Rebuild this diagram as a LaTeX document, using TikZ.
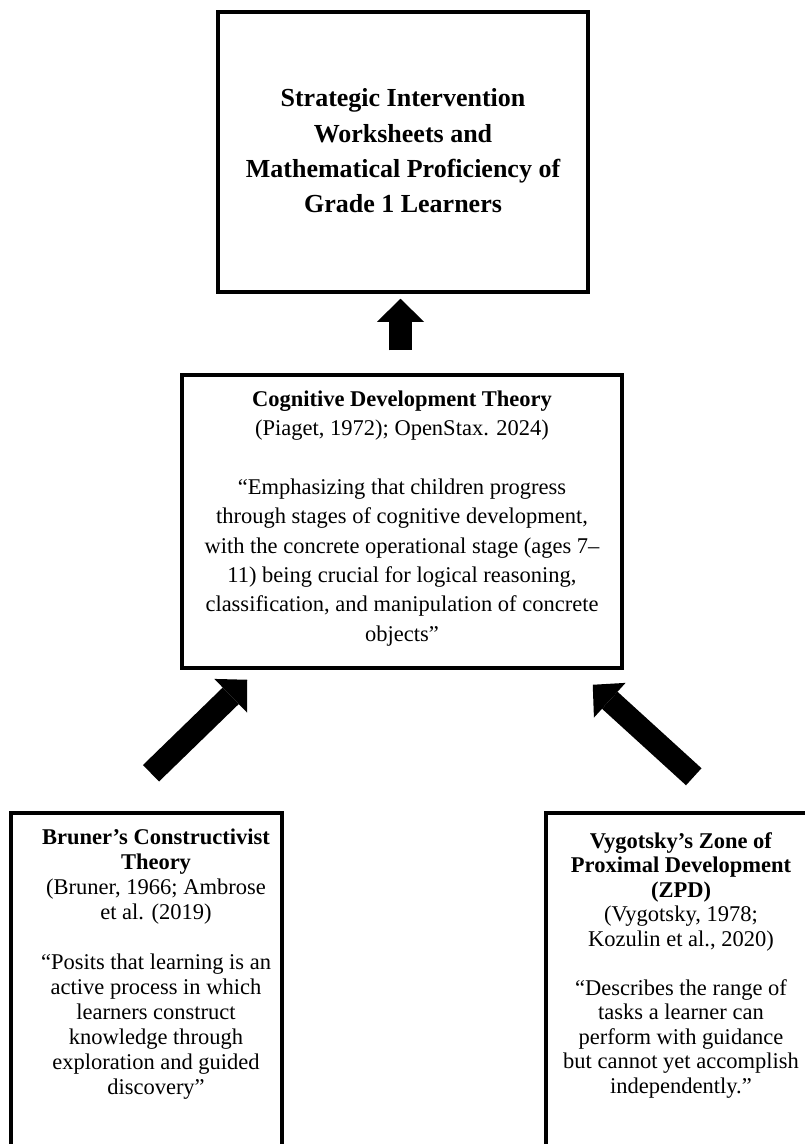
\documentclass[tikz,border=0pt]{standalone}
\usepackage{fontspec}
\setmainfont{Liberation Serif}
\usetikzlibrary{arrows.meta}
\begin{document}
\begin{tikzpicture}[x=1pt,y=-1pt,
  box/.style={draw=black, line width=3.5pt, rectangle, inner sep=0pt},
  txt/.style={align=center, inner sep=0pt, anchor=north},
  blockarrow/.style={line width=23pt, draw=black,
    -{Triangle[length=23pt,width=47pt,line width=0pt]}}]
\useasboundingbox (0,0) rectangle (805,1144);
\clip (0,0) rectangle (805,1144);
% boxes
\node[box, minimum width=370pt, minimum height=280pt] (top) at (403,152) {};
\node[box, minimum width=440pt, minimum height=293pt] (mid) at (402,521.5) {};
\node[box, minimum width=271pt, minimum height=387pt] (left) at (146.5,1006.5) {};
\node[box, minimum width=354pt, minimum height=387pt] (right) at (723,1006.5) {};
% texts
\node[txt, font={\fontsize{26}{35.3}\selectfont\bfseries}] (toptxt) at (403,87)
  {\rule{0pt}{19.5pt}Strategic Intervention\\ Worksheets and\\ Mathematical Proficiency of\\ Grade 1 Learners};
\node[txt, font={\fontsize{22.5}{29.3}\selectfont}] (midtxt) at (402,389.5)
  {\rule{0pt}{16.9pt}\textbf{Cognitive Development Theory}\\
   (Piaget, 1972); OpenStax. 2024)\\[29.3pt]
   “Emphasizing that children progress\\
   through stages of cognitive development,\\
   with the concrete operational stage (ages 7–\\
   11) being crucial for logical reasoning,\\
   classification, and manipulation of concrete\\
   objects”};
\node[txt, font={\fontsize{22.5}{25}\selectfont}] (lefttxt) at (156,827)
  {\rule{0pt}{16.9pt}\textbf{Bruner’s Constructivist}\\
   \textbf{Theory}\\
   (Bruner, 1966; Ambrose\\
   et al. (2019)\\[25pt]
   “Posits that learning is an\\
   active process in which\\
   learners construct\\
   knowledge through\\
   exploration and guided\\
   discovery”};
\node[txt, font={\fontsize{22.5}{24.5}\selectfont}] (righttxt) at (681,831)
  {\rule{0pt}{16.9pt}\textbf{Vygotsky’s Zone of}\\
   \textbf{Proximal Development}\\
   \textbf{(ZPD)}\\
   (Vygotsky, 1978;\\
   Kozulin et al., 2020)\\[24.5pt]
   “Describes the range of\\
   tasks a learner can\\
   perform with guidance\\
   but cannot yet accomplish\\
   independently.”};
% arrows
\draw[blockarrow] ([xshift=-1.5pt,yshift=23pt]mid.north) -- ([xshift=-2.5pt,yshift=-5pt]top.south);
\draw[blockarrow] ([xshift=4.5pt,yshift=38pt]left.north) -- ([xshift=67pt,yshift=-10pt]mid.south west);
\draw[blockarrow] ([xshift=149.5pt,yshift=34.5pt]right.north west) -- ([xshift=-31pt,yshift=-15pt]mid.south east);
\end{tikzpicture}
\end{document}
